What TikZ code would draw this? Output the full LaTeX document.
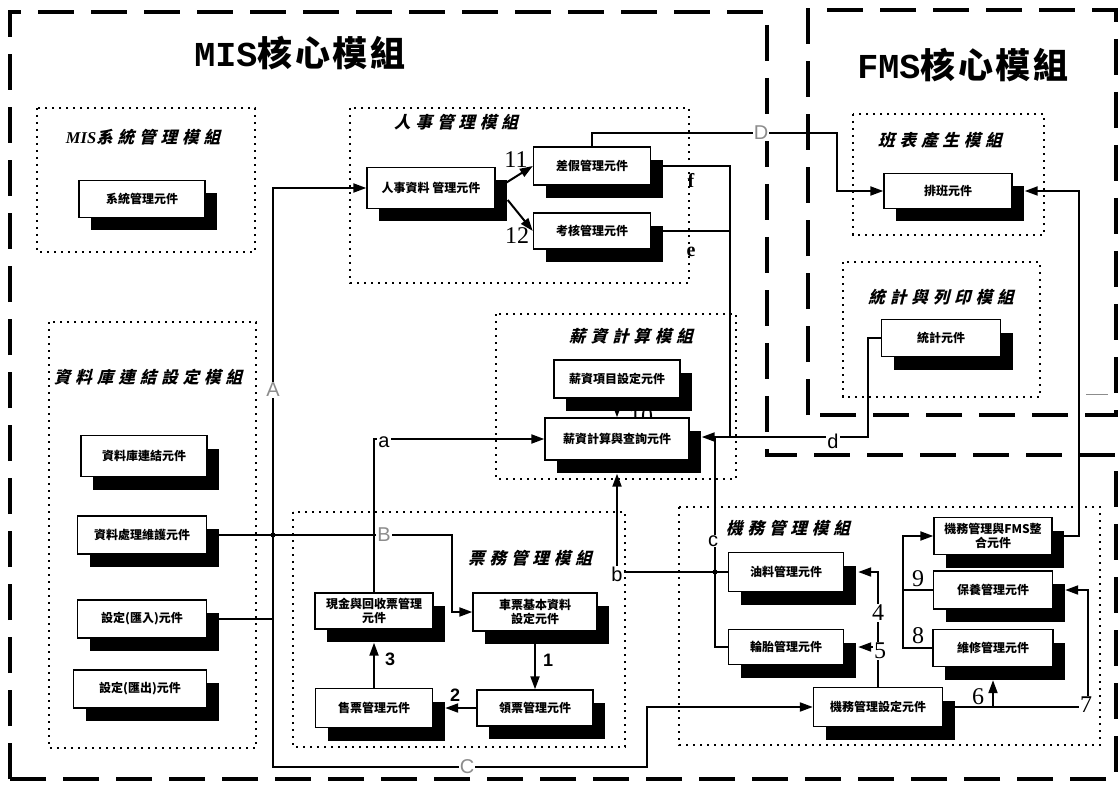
\documentclass[tikz,border=0pt]{standalone}
\usepackage{fontspec}
\setmainfont{Liberation Serif}
\setsansfont{Liberation Sans}
\setmonofont{Liberation Mono}
\newfontfamily\cjk{Noto Sans CJK TC}
\newfontfamily\cjkwide{Noto Sans CJK TC}[LetterSpace=8]
\newfontfamily\cjkslant{Noto Sans CJK TC}[FakeSlant=0.25, LetterSpace=30]
\usetikzlibrary{arrows.meta, shadows, calc}
\definecolor{cfaint}{gray}{0.55}
\tikzset{
  comp/.style={draw, fill=white, line width=1.4pt, align=center, inner sep=1pt,
    font=\cjk\bfseries\fontsize{12}{14}\selectfont,
    general shadow={fill=black, shadow xshift=12pt, shadow yshift=-13pt}},
  corebox/.style={line width=4pt, dash pattern=on 36pt off 17pt},
  modbox/.style={line width=2.4pt, dash pattern=on 2.4pt off 4.6pt},
  coretitle/.style={font=\cjkwide\bfseries\fontsize{35}{40}\selectfont},
  modtitle/.style={font=\cjkslant\bfseries\fontsize{16.5}{18}\selectfont},
  link/.style={line width=2pt},
  arr/.style={-{Triangle[length=13pt, width=9pt]}},
  numlbl/.style={font=\rmfamily\fontsize{24}{24}\selectfont, inner sep=1pt},
  bnumlbl/.style={font=\sffamily\bfseries\fontsize{18}{18}\selectfont, inner sep=1pt},
  lbl/.style={font=\sffamily\fontsize{20}{20}\selectfont, fill=white, inner sep=1pt},
  faint/.style={font=\sffamily\fontsize{20}{20}\selectfont, text=cfaint, fill=white, inner sep=1pt},
  jdot/.style={circle, fill=black, inner sep=0pt, minimum size=5pt},
}
\begin{document}
\begin{tikzpicture}[x=1pt, y=-1pt]
  \useasboundingbox (0,0) rectangle (1118,786);
  % ---------- core modules ----------
  \draw[corebox] (10,779) -- (10,12) -- (767,12) -- (767,455) -- (1116,455) -- (1116,779) -- cycle;
  \draw[corebox] (808,415) -- (808,10) -- (1116,10) -- (1116,415) -- cycle;
  \node[coretitle] (mistitle) at (300,53) {{\ttfamily MIS}核心模組};
  \node[coretitle] (fmstitle) at (963,65) {{\ttfamily FMS}核心模組};
  % ---------- sub modules ----------
  \draw[modbox] (37,108) rectangle (255,252);
  \draw[modbox] (350,108) rectangle (689,283);
  \draw[modbox] (49,322) rectangle (256,748);
  \draw[modbox] (496,314) rectangle (736,479);
  \draw[modbox] (293,512) rectangle (625,747);
  \draw[modbox] (679,507) rectangle (1100,745);
  \draw[modbox] (853,114) rectangle (1044,235);
  \draw[modbox] (843,262) rectangle (1040,397);
  \node[modtitle] (systitle) at (143,137) {{\rmfamily\itshape MIS}系統管理模組};
  \node[modtitle] (hrtitle) at (456,122) {人事管理模組};
  \node[modtitle] (dbtitle) at (148,377) {資料庫連結設定模組};
  \node[modtitle] (paytitle) at (631,336) {薪資計算模組};
  \node[modtitle] (tktitle) at (530,558) {票務管理模組};
  \node[modtitle] (mtitle) at (788,528) {機務管理模組};
  \node[modtitle] (schtitle) at (940,140) {班表產生模組};
  \node[modtitle] (sttitle) at (941,297) {統計與列印模組};
  % ---------- components ----------
  \node[comp, minimum width=126pt, minimum height=37pt] (sysmgr) at (142,199) {系統管理元件};
  \node[comp, minimum width=128pt, minimum height=41pt] (hrdata) at (431,188) {人事資料 管理元件};
  \node[comp, minimum width=117pt, minimum height=38pt] (leave) at (592,166) {差假管理元件};
  \node[comp, minimum width=117pt, minimum height=36pt] (assess) at (592,231) {考核管理元件};
  \node[comp, minimum width=126pt, minimum height=41pt] (dblink) at (144,456) {資料庫連結元件};
  \node[comp, minimum width=129pt, minimum height=38pt] (dproc) at (142,535) {資料處理維護元件};
  \node[comp, minimum width=129pt, minimum height=38pt] (setin) at (142,619) {設定(匯入)元件};
  \node[comp, minimum width=133pt, minimum height=38pt] (setout) at (140,689) {設定(匯出)元件};
  \node[comp, minimum width=126pt, minimum height=38pt] (payitem) at (617,379) {薪資項目設定元件};
  \node[numlbl] at (641,417) {10};
  \node[comp, minimum width=144pt, minimum height=42pt] (paycalc) at (617,439) {薪資計算與查詢元件};
  \node[comp, minimum width=118pt, minimum height=36pt] (cash) at (374,611) {現金與回收票管理\\元件};
  \node[comp, minimum width=124pt, minimum height=38pt] (ticket) at (535,612) {車票基本資料\\設定元件};
  \node[comp, minimum width=117pt, minimum height=39pt] (sell) at (374,708) {售票管理元件};
  \node[comp, minimum width=116pt, minimum height=36pt] (pick) at (535,708) {領票管理元件};
  \node[comp, minimum width=115pt, minimum height=39pt] (fuel) at (786,572) {油料管理元件};
  \node[comp, minimum width=115pt, minimum height=35pt] (tire) at (786,647) {輪胎管理元件};
  \node[comp, minimum width=129pt, minimum height=39pt] (mset) at (878,707) {機務管理設定元件};
  \node[comp, minimum width=118pt, minimum height=37pt] (fmsint) at (993,536) {機務管理與FMS整\\合元件};
  \node[comp, minimum width=119pt, minimum height=38pt] (maint) at (993,590) {保養管理元件};
  \node[comp, minimum width=120pt, minimum height=37pt] (repair) at (993,648) {維修管理元件};
  \node[comp, minimum width=128pt, minimum height=35pt] (sched) at (948,191) {排班元件};
  \node[comp, minimum width=119pt, minimum height=37pt] (stat) at (941,338) {統計元件};
  % ---------- connectors ----------
  \coordinate (jA) at (273,619);
  \coordinate (cA) at (273,767);
  \coordinate (cC) at (647,707);
  \coordinate (jB) at (452,535);
  \coordinate (cb) at (617,572);
  \coordinate (jc) at (715,437);
  \coordinate (jf) at (730,437);
  \coordinate (cd) at (868,437);
  \coordinate (cD) at (837,133);
  \coordinate (cE) at (1079,191);
  \coordinate (j4) at (878,572);
  \coordinate (j5) at (878,647);
  \coordinate (j6) at (993,707);
  \coordinate (j7) at (1088,707);
  \coordinate (c89) at (903,648);
  \draw[link] (setin.east) -- (jA);
  \draw[link, arr] (jA) |- (hrdata.west);
  \draw[link, arr] (jA) -- (cA) -| (cC) |- (mset.west);
  \draw[link, arr] (dproc.east) -- (jB) |- (ticket.west);
  \draw[link, arr] (cash.north) |- (paycalc.west);
  \draw[link, arr] (ticket.south) -- (pick.north);
  \draw[link, arr] (pick.west) -- ($(sell.east)+(12,0)$);
  \draw[link, arr] (sell.north) -- ($(cash.south)+(0,13)$);
  \draw[link, arr] (payitem.south) -- (paycalc.north);
  \draw[link, arr] (fuel.west) -- (cb) -- ($(paycalc.south)+(0,13)$);
  \draw[link, arr] (stat.west) -| (cd) -- ($(paycalc.east)+(12,-2)$);
  \draw[link] (tire.west) -| (jc);
  \draw[link] (leave.east) -| (jf);
  \draw[link] (assess.east) -- (assess.east -| jf);
  \draw[link, arr] (leave.north) |- (cD) |- (sched.west);
  \draw[link, arr] (fmsint.east) -| (cE) -- ($(sched.east)+(12,0)$);
  \draw[link, arr] ($(hrdata.east)+(10,-5)$) -- (leave.west);
  \draw[link, arr] ($(hrdata.east)+(12,12)$) -- (assess.west);
  \draw[link, arr] (mset.north) -- (j4) -- ($(fuel.east)+(14,0)$);
  \draw[link, arr] (j5) -- ($(tire.east)+(14,0)$);
  \draw[link] (mset.east) -- (j7);
  \draw[link, arr] (j6) -- ($(repair.south)+(0,13)$);
  \draw[link, arr] (j7) |- ($(maint.east)+(12,0)$);
  \draw[link, arr] (repair.west) -- (c89) |- (fmsint.west);
  \draw[link] (maint.west) -- (maint.west -| c89);
  \node[jdot] at (273,535) {};
  \node[jdot] at (715,572) {};
  \draw[cfaint, line width=1pt] (1086,394) -- (1108,394);
  % ---------- labels ----------
  \node[faint] at (273,390) {A};
  \node[faint] at (384,535) {B};
  \node[faint] at (467,767) {C};
  \node[faint] at (761,133) {D};
  \node[lbl] at (384,442) {a};
  \node[lbl] at (617,574) {b};
  \node[lbl] at (713,541) {c};
  \node[lbl] at (833,441) {d};
  \node[numlbl, font=\rmfamily\bfseries\fontsize{20}{20}\selectfont] at (691,252) {e};
  \node[numlbl, font=\rmfamily\bfseries\fontsize{20}{20}\selectfont] at (691,180) {f};
  \node[bnumlbl] at (548,660) {1};
  \node[bnumlbl] at (455,695) {2};
  \node[bnumlbl] at (390,659) {3};
  \node[numlbl, fill=white] at (878,613) {4};
  \node[numlbl, fill=white] at (880,651) {5};
  \node[numlbl] at (978,697) {6};
  \node[numlbl, fill=white] at (1086,705) {7};
  \node[numlbl] at (918,636) {8};
  \node[numlbl] at (918,579) {9};
  \node[numlbl] at (516,160) {11};
  \node[numlbl] at (517,236) {12};
\end{tikzpicture}
\end{document}
